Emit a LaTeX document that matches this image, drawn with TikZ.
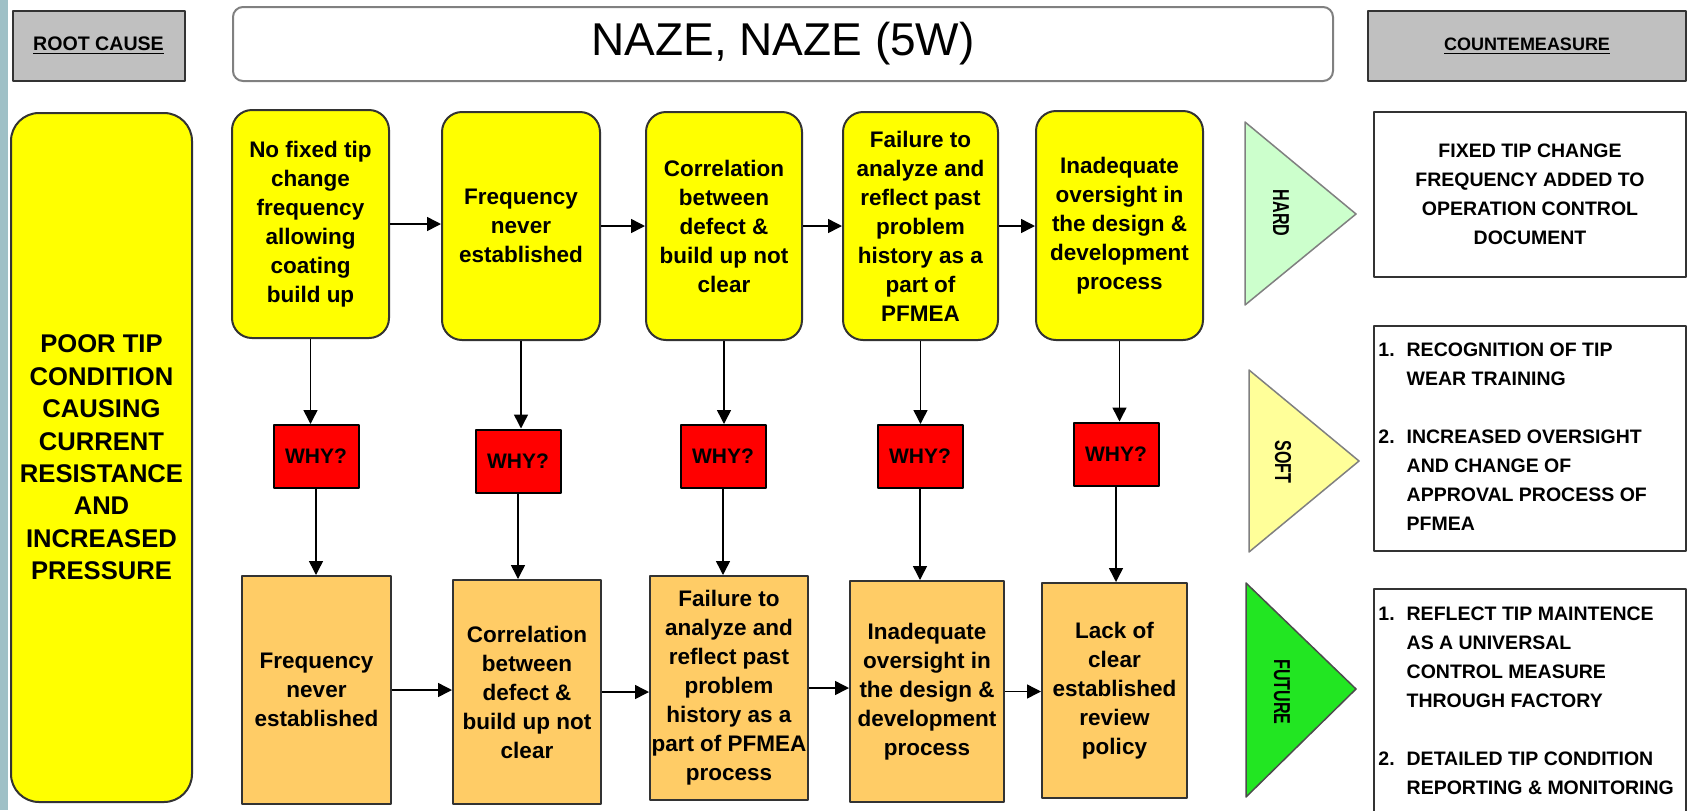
\documentclass[tikz,border=0pt]{standalone}
\usepackage{fontspec}
\setmainfont{Liberation Sans}
\usetikzlibrary{arrows.meta}
\definecolor{hdrgray}{HTML}{C0C0C0}
\definecolor{boxyellow}{HTML}{FFFF00}
\definecolor{boxorange}{HTML}{FFCC66}
\definecolor{hardgreen}{HTML}{CCFFCC}
\definecolor{softyellow}{HTML}{FFFF99}
\definecolor{futgreen}{HTML}{22E622}
\definecolor{edgegray}{HTML}{333333}
\definecolor{stripblue}{HTML}{9FC0C6}
\begin{document}
\begin{tikzpicture}[x=0.5pt,y=-0.5pt,>={Triangle[length=7pt,width=7pt]},line join=round,
	txt/.style={font=\fontsize{11.25}{14.5}\selectfont\bfseries,align=center,inner sep=0pt},
	topbox/.style={txt,draw=edgegray,fill=boxyellow,line width=1pt,rounded corners=10pt},
	botbox/.style={txt,draw=edgegray,fill=boxorange,line width=1pt},
	whybox/.style={draw=black,fill=red,line width=1pt,minimum width=42.5pt,minimum height=31.5pt,inner sep=0pt,font=\fontsize{10.5}{12}\selectfont\bfseries},
	hdrbox/.style={draw=edgegray,fill=hdrgray,line width=1pt,minimum height=35pt,inner sep=0pt},
	cmbox/.style={draw=edgegray,fill=white,line width=1pt,inner sep=0pt,minimum width=156pt},
	cmtxt/.style={font=\fontsize{9.75}{14.5}\selectfont\bfseries,inner sep=0pt},
	tritxt/.style={font=\fontsize{11.5}{13}\selectfont\bfseries,rotate=-90,inner sep=0pt},
	flow/.style={->,line width=0.75pt}]
		\useasboundingbox (0,0) rectangle (1694,810);
		\clip (0,0) rectangle (1694,810);
		\fill[white] (0,0) rectangle (1694,810);
		\fill[stripblue] (0,0) rectangle (8,810);
		% header row
		\node[hdrbox,minimum width=86pt,font=\fontsize{9.8}{12}\selectfont\bfseries] (rc) at (98.5,46) {\underline{ROOT CAUSE}};
		\node[draw=gray,line width=1pt,rounded corners=5pt,minimum width=550pt,minimum height=37pt,inner sep=0pt,font=\fontsize{23}{27}\selectfont] (title) at (783,44) {NAZE, NAZE (5W)};
		\node[hdrbox,minimum width=159pt,font=\fontsize{9}{11}\selectfont\bfseries] (cm) at (1527,46) {\underline{COUNTEMEASURE}};
		% root cause
		\node[draw=edgegray,fill=boxyellow,line width=1pt,rounded corners=14pt,minimum width=90.5pt,minimum height=344.5pt,inner sep=0pt,align=center,font=\fontsize{12.8}{16.2}\selectfont\bfseries] (cause) at (101.5,457.5) {POOR TIP\\CONDITION\\CAUSING\\CURRENT\\RESISTANCE\\AND\\INCREASED\\PRESSURE};
		% first why chain
		\node[topbox,minimum width=78.5pt,minimum height=114pt] (t1) at (310.5,224) {No fixed tip\\change\\frequency\\allowing\\coating\\build up};
		\node[topbox,minimum width=79pt,minimum height=114pt] (t2) at (521,226) {Frequency\\never\\established};
		\node[topbox,minimum width=78pt,minimum height=114pt] (t3) at (724,226) {Correlation\\between\\defect \&\\build up not\\clear};
		\node[topbox,minimum width=77.5pt,minimum height=114pt] (t4) at (920.5,226) {Failure to\\analyze and\\reflect past\\problem\\history as a\\part of\\PFMEA};
		\node[topbox,minimum width=83.5pt,minimum height=114.5pt] (t5) at (1119.5,225.5) {Inadequate\\oversight in\\the design \&\\development\\process};
		% why boxes
		\node[whybox] (w1) at (316,456.5) {WHY?};
		\node[whybox] (w2) at (518,461) {WHY?};
		\node[whybox] (w3) at (723,456.5) {WHY?};
		\node[whybox] (w4) at (920,456.5) {WHY?};
		\node[whybox] (w5) at (1116,454) {WHY?};
		% second why chain
		\node[botbox,minimum width=74.5pt,minimum height=114pt] (b1) at (316.5,690) {Frequency\\never\\established};
		\node[botbox,minimum width=74pt,minimum height=112pt] (b2) at (527,692) {Correlation\\between\\defect \&\\build up not\\clear};
		\node[botbox,minimum width=79pt,minimum height=112pt] (b3) at (729,688) {Failure to\\analyze and\\reflect past\\problem\\history as a\\part of PFMEA\\process};
		\node[botbox,minimum width=77pt,minimum height=110.5pt] (b4) at (927,691.5) {Inadequate\\oversight in\\the design \&\\development\\process};
		\node[botbox,minimum width=72.5pt,minimum height=107.5pt] (b5) at (1114.5,690.5) {Lack of\\clear\\established\\review\\policy};
		\foreach \p/\q in {t1/t2,t2/t3,t3/t4,t4/t5,b1/b2,b2/b3,b3/b4,b4/b5}
		\draw[flow] (\p.east) -- (\p.east -| \q.west);
		\foreach \i in {1,...,5}{
		\draw[flow] (t\i.south) -- (t\i.south |- w\i.north);
		\draw[flow] (w\i.south) -- (w\i.south |- b\i.north);}
		% countermeasures
		\draw[draw=gray,fill=hardgreen,line width=0.75pt] (1245,122) -- (1356,214) -- (1245,305) -- cycle;
		\node[tritxt] (hard) at (1281,213) {\scalebox{0.7}[1]{HARD}};
		\draw[draw=gray,fill=softyellow,line width=0.75pt] (1249,370) -- (1359,461) -- (1249,552) -- cycle;
		\node[tritxt] (soft) at (1283,462) {\scalebox{0.7}[1]{SOFT}};
		\draw[draw=gray!60!black,fill=futgreen,line width=0.75pt] (1246,583) -- (1356,689) -- (1246,797) -- cycle;
		\node[tritxt] (future) at (1282,692) {\scalebox{0.7}[1]{FUTURE}};
		\node[cmbox,cmtxt,align=center,minimum height=82.5pt] (hardcm) at (1530,194.5) {FIXED TIP CHANGE\\FREQUENCY ADDED TO\\OPERATION CONTROL\\DOCUMENT};
		\node[cmbox,minimum height=112.5pt] (softcm) at (1530,438.5) {};
		\node[cmtxt,anchor=west] (softlist) at (1378,438) {\begin{tabular}{@{}l@{\hspace{6pt}}l@{}}1. & RECOGNITION OF TIP\\ & WEAR TRAINING\\[14.5pt] 2. & INCREASED OVERSIGHT\\ & AND CHANGE OF\\ & APPROVAL PROCESS OF\\ & PFMEA\end{tabular}};
		\node[cmbox,minimum height=125.5pt] (futcm) at (1530,714.5) {};
		\node[cmtxt,anchor=west] (futlist) at (1378,702) {\begin{tabular}{@{}l@{\hspace{6pt}}l@{}}1. & REFLECT TIP MAINTENCE\\ & AS A UNIVERSAL\\ & CONTROL MEASURE\\ & THROUGH FACTORY\\[14.5pt] 2. & DETAILED TIP CONDITION\\ & REPORTING \& MONITORING\end{tabular}};
		\end{tikzpicture}
\end{document}
